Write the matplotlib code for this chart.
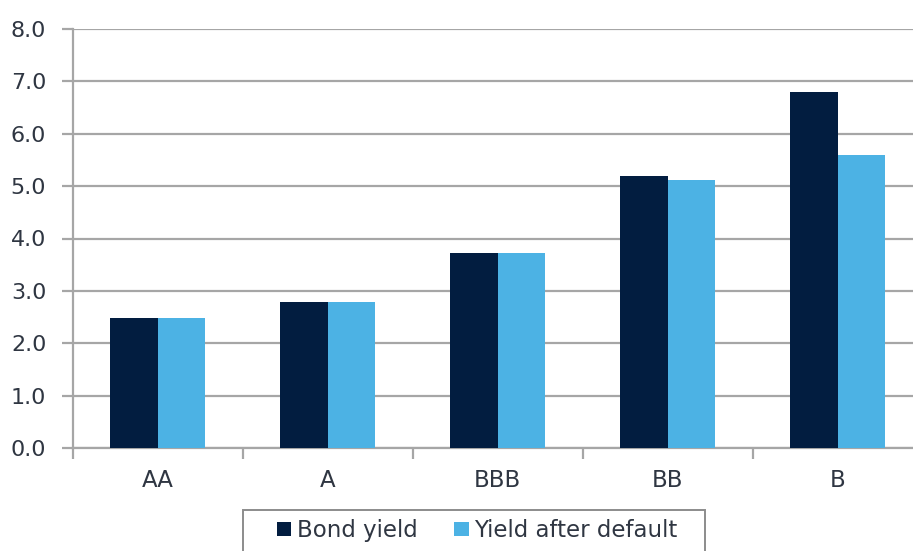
import numpy as np
import matplotlib.pyplot as plt
from matplotlib.patches import Rectangle

# rating buckets and yields (%)
ratings = ["AA", "A", "BBB", "BB", "B"]
bond_yield = [2.48, 2.79, 3.73, 5.20, 6.79]
yield_after_default = [2.48, 2.79, 3.73, 5.12, 5.60]

dark = "#021d40"
light = "#4cb2e4"
grid_col = "#a6a6a6"
text_col = "#2f3642"

plt.rcParams["font.family"] = ["DejaVu Sans"]

W, H = 913, 551
fig = plt.figure(figsize=(W / 100, H / 100), dpi=100)
ax = fig.add_axes([72.7 / W, 1 - 448 / H, 850 / W, 419 / H])

x = np.arange(len(ratings))
w = 0.278
ax.bar(x - w / 2, bond_yield, w, color=dark, label="Bond yield", zorder=3)
ax.bar(x + w / 2, yield_after_default, w, color=light, label="Yield after default", zorder=3)

ax.set_xlim(-0.5, len(ratings) - 0.5)
ax.set_ylim(0, 8)
ax.set_yticks(np.arange(0, 8.1, 1.0))
ax.set_yticklabels([f"{v:.1f}" for v in np.arange(0, 8.1, 1.0)])
ax.yaxis.grid(True, color=grid_col, linewidth=1.6, zorder=0)

# category labels centred, tick marks on boundaries
ax.set_xticks(x)
ax.set_xticklabels(ratings)
ax.set_xticks(np.arange(-0.5, len(ratings), 1.0), minor=True)
ax.tick_params(axis="x", which="major", length=0, pad=15, labelsize=16.5, labelcolor=text_col)
ax.tick_params(axis="x", which="minor", length=8, width=1.6, color=grid_col)
ax.tick_params(axis="y", length=8, width=1.6, color=grid_col, pad=11,
               labelsize=16, labelcolor=text_col)

for side in ["top", "right"]:
    ax.spines[side].set_visible(False)
for side in ["left", "bottom"]:
    ax.spines[side].set_color(grid_col)
    ax.spines[side].set_linewidth(1.6)

# legend box running off the bottom edge
box = Rectangle((243 / W, -0.05), (705 - 243) / W, 0.05 + 1 - 510.5 / H,
                transform=fig.transFigure, facecolor="none",
                edgecolor="#8c8c8c", linewidth=1.4, zorder=10)
fig.add_artist(box)
leg = fig.legend(loc="upper left", bbox_to_anchor=(277 / W, 1 - 519 / H),
                 ncol=2, frameon=False, fontsize=16.5,
                 handlelength=0.62, handleheight=0.62, handletextpad=0.25,
                 columnspacing=1.6, borderpad=0, borderaxespad=0)
for t in leg.get_texts():
    t.set_color(text_col)

fig.savefig("out.png", dpi=100)
